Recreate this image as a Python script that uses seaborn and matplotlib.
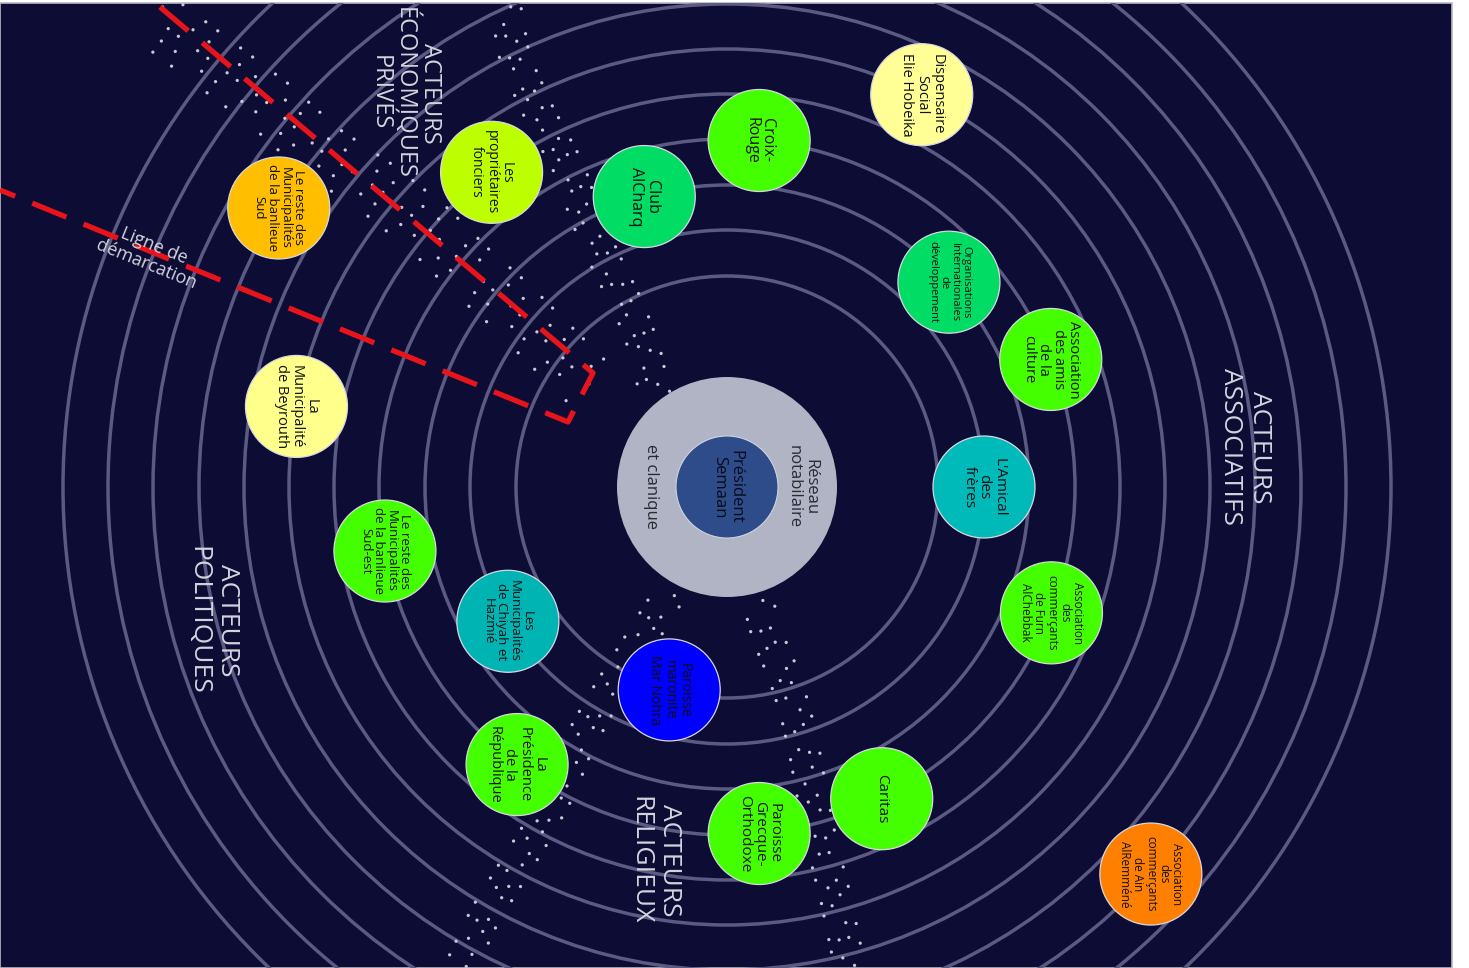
import numpy as np
import matplotlib
matplotlib.use("Agg")
import matplotlib.pyplot as plt
from matplotlib.patches import Circle, Rectangle
import seaborn as sns

sns.set_theme(style="white")
plt.rcParams['font.family'] = ['Open Sans', 'DejaVu Sans']

# ---------------- data ----------------
W, H = 1469, 968
CX, CY = 727, 487
ring_radii = [211, 257, 302, 348, 393, 438, 483, 528, 574, 619, 664]
core_radius = 110
inner_radius = 51
node_radius = 51

node_labels = [
    "Dispensaire\nSocial\nElie Hobeika",
    "Croix-\nRouge",
    "Club\nAlCharq",
    "Les\npropriétaires\nfonciers",
    "Le reste des\nMunicipalités\nde la banlieue\nSud",
    "La\nMunicipalité\nde Beyrouth",
    "Organisations\nInternationales\nde\ndéveloppement",
    "Association\ndes amis\nde la\nculture",
    "L'Amical\ndes\nfrères",
    "Association\ndes\ncommerçants\nde Furn\nAlChebbak",
    "Caritas",
    "Paroisse\nGrecque-\nOrthodoxe",
    "Association\ndes\ncommerçants\nde Ain\nAlRemméné",
    "Paroisse\nmaronite\nMar Nohra",
    "La\nPrésidence\nde la\nRépublique",
    "Les\nMunicipalités\nde Chiyah et\nHazmié",
    "Le reste des\nMunicipalités\nde la banlieue\nSud-est",
]
node_ring = [5, 3, 2, 4, 7, 5, 2, 3, 1, 3, 3, 3, 8, 0, 3, 1, 3]
node_angle = [63.6, 84.7, 105.9, 126.8, 148.1, 169.4, 42.7, 21.5, 0.0,
              -21.2, -63.6, -84.7, -42.4, -105.9, -127.1, -148.5, -169.4]

# styles
node_color = ["#ffff96", "#44ff00", "#00dc64", "#beff00", "#ffbe00", "#ffff8c",
              "#00dc64", "#44ff00", "#00b9b9", "#44ff00", "#44ff00", "#44ff00",
              "#ff8000", "#0000ff", "#44ff00", "#00b4b4", "#44ff00"]
node_fsize = [10.5, 11.5, 11.5, 10, 9.5, 10.5, 8, 10.5, 11, 8.5, 11, 11,
              8.5, 10, 10.5, 9.5, 9.5]

sector_labels = ["ACTEURS\nÉCONOMIQUES\nPRIVÉS", "ACTEURS\nASSOCIATIFS",
                 "ACTEURS\nPOLITIQUES", "ACTEURS\nRELIGIEUX"]
sector_x = [405, 1245, 213, 655]
sector_y = [93, 447, 620, 860]
sector_fs = [17, 19, 19, 19]
sector_ls = [1.0, 1.25, 1.25, 1.25]

demarc_x = [160, 593, 568, 0]
demarc_y = [7, 373, 422, 190]

trail_a_x = [150, 210, 270, 320, 380, 430, 470, 510, 550, 590]
trail_a_y = [15, 60, 105, 150, 190, 230, 270, 305, 345, 385]
trail_b_x = [505, 515, 540, 570, 585, 605, 630, 645, 655]
trail_b_y = [3, 60, 115, 170, 215, 260, 310, 350, 395]
trail_c_x = [672, 650, 625, 600, 578, 560, 535, 510, 485, 460]
trail_c_y = [590, 625, 665, 705, 745, 790, 835, 875, 915, 968]
trail_d_x = [757, 768, 783, 795, 805, 813, 822, 835, 850]
trail_d_y = [598, 638, 673, 710, 755, 800, 845, 895, 968]

# ---------------- drawing ----------------
BG = "#0c0c34"
RING = "#5a5a82"
fig = plt.figure(figsize=(W / 100, H / 100), dpi=100, facecolor="white")
ax = fig.add_axes([0, 0, 1, 1])
ax.set_xlim(0, W)
ax.set_ylim(H, 0)
ax.axis("off")

bg = Rectangle((0, 3), 1452, 965, fc=BG, ec="#b8b8c4", lw=1.2, zorder=0)
ax.add_patch(bg)

for r in ring_radii:
    c = Circle((CX, CY), r, fill=False, ec=RING, lw=2.5, zorder=1)
    ax.add_patch(c)
    c.set_clip_path(bg)


def draw_trail(xs, ys, width, gaps):
    xs = np.asarray(xs, float)
    ys = np.asarray(ys, float)
    dx = np.gradient(xs)
    dy = np.gradient(ys)
    n = np.hypot(dx, dy)
    nx, ny = -dy / n, dx / n
    offs = np.linspace(-width, width, len(gaps))
    for k, (off, gap) in enumerate(zip(offs, gaps)):
        sns.lineplot(x=xs + nx * off, y=ys + ny * off, sort=False, estimator=None,
                     ax=ax, color="#c8c8d8", linewidth=2.4,
                     linestyle=(gap * 0.37 * (k + 1), (0.01, gap, 0.01, gap * 1.9)),
                     dash_capstyle="round", zorder=2, legend=False)


draw_trail(trail_a_x, trail_a_y, 28, [4.5, 6.0, 3.8, 5.2, 7.0])
draw_trail(trail_b_x, trail_b_y, 15, [4.0, 5.5, 3.5, 6.5])
draw_trail(trail_c_x, trail_c_y, 15, [5.0, 4.0, 6.0, 4.5])
draw_trail(trail_d_x, trail_d_y, 15, [6.0, 4.5, 5.5, 3.8])

sns.lineplot(x=demarc_x, y=demarc_y, sort=False, estimator=None, ax=ax,
             color="#e8141c", linewidth=3.8, linestyle=(0, (7, 3.5)),
             zorder=4, legend=False)
ax.text(150, 255, "Ligne de\ndémarcation", rotation=-22, ha="center", va="center",
        multialignment="center", fontsize=13, color="#d4d4de", linespacing=1.1,
        zorder=5)

# core
ax.add_patch(Circle((CX, CY), core_radius, fc="#b0b4c4", ec="none", zorder=3))
ax.add_patch(Circle((CX, CY), inner_radius, fc="#2e4c8a", ec="#d0d4e0", lw=0.8,
                    zorder=3))
ax.text(CX, CY, "Président\nSemaan", rotation=-90, ha="center", va="center",
        multialignment="center", fontsize=12, color="#0a0a1e", linespacing=1.05,
        zorder=5)
ax.text(802, CY, "Réseau\nnotabilaire", rotation=-90, ha="center", va="center",
        multialignment="center", fontsize=12, color="#2a2a36", linespacing=1.05,
        zorder=5)
ax.text(651, CY, "et clanique", rotation=-90, ha="center", va="center",
        fontsize=12, color="#2a2a36", zorder=5)

for lab, ri, ang, col, fs in zip(node_labels, node_ring, node_angle, node_color,
                                 node_fsize):
    r = ring_radii[ri]
    t = np.deg2rad(ang)
    x = CX + r * np.cos(t)
    y = CY - r * np.sin(t)
    ax.add_patch(Circle((x, y), node_radius, fc=col, ec="#d8d8e4", lw=0.9,
                        zorder=3))
    ax.text(x, y, lab, rotation=-90, ha="center", va="center",
            multialignment="center", fontsize=fs, color="#101010",
            linespacing=1.0, zorder=5)

for lab, x, y, fs, ls in zip(sector_labels, sector_x, sector_y, sector_fs,
                             sector_ls):
    ax.text(x, y, lab, rotation=-90, ha="center", va="center",
            multialignment="center", fontsize=fs, color="#d4d4de",
            linespacing=ls, zorder=5)

fig.savefig("out.png", dpi=100, facecolor="white")
